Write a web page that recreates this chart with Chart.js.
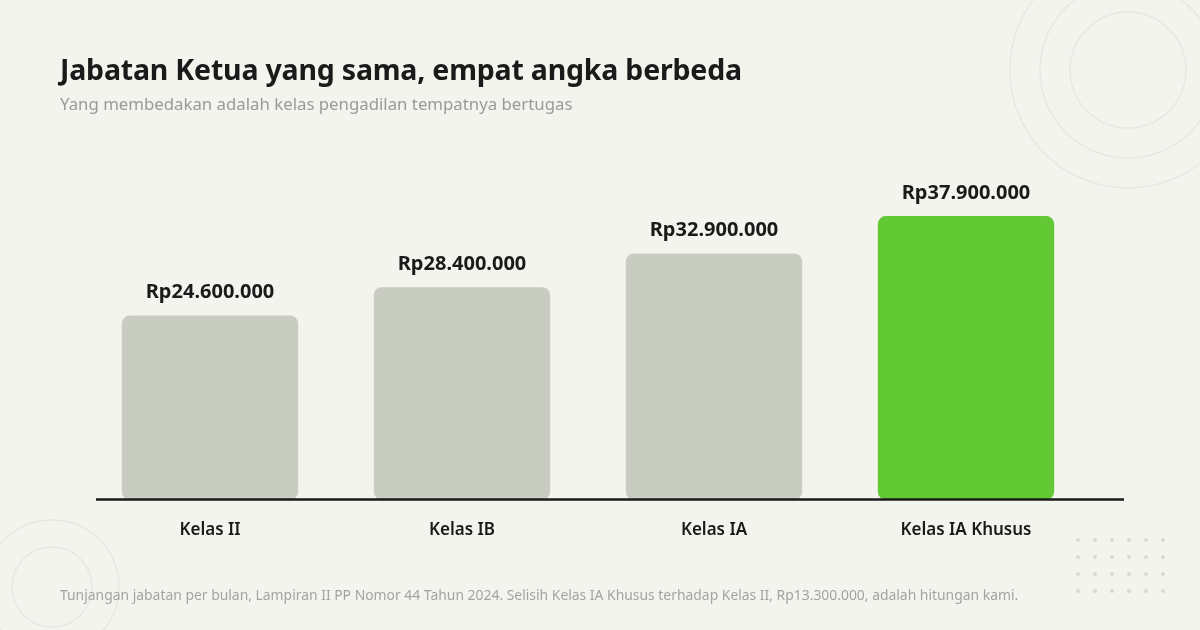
<!DOCTYPE html>
<html>
<head>
<meta charset="utf-8">
<script src="https://cdn.jsdelivr.net/npm/chart.js@4/dist/chart.umd.min.js"></script>
<style>
  html, body { margin: 0; padding: 0; }
  body {
    width: 1200px; height: 630px; overflow: hidden;
    background: #f4f4ef; position: relative;
    font-family: "Noto Sans", "Open Sans", sans-serif;
  }
  #grafik { position: absolute; left: 0; top: 0; }
  .judul {
    position: absolute; left: 60px; top: 50px; margin: 0;
    font-size: 28.5px; font-weight: 700; color: #1a1a1a; letter-spacing: -0.2px;
  }
  .subjudul {
    position: absolute; left: 60px; top: 92px; margin: 0;
    font-size: 16.8px; color: #9a9a96;
  }
  .catatan {
    position: absolute; left: 60px; top: 585px; margin: 0;
    font-size: 13.9px; color: #a3a39f;
  }
</style>
</head>
<body>
<canvas id="grafik" width="1200" height="630"></canvas>
<h1 class="judul">Jabatan Ketua yang sama, empat angka berbeda</h1>
<p class="subjudul">Yang membedakan adalah kelas pengadilan tempatnya bertugas</p>
<p class="catatan">Tunjangan jabatan per bulan, Lampiran II PP Nomor 44 Tahun 2024. Selisih Kelas IA Khusus terhadap Kelas II, Rp13.300.000, adalah hitungan kami.</p>

<script>
// Data tunjangan per kelas pengadilan
const kelas = ['Kelas II', 'Kelas IB', 'Kelas IA', 'Kelas IA Khusus'];
const tunjangan = [24600000, 28400000, 32900000, 37900000];
const warnaBatang = ['#c9ccc1', '#c9ccc1', '#c9ccc1', '#62c934'];

// Format rupiah dengan titik ribuan
function rupiah(n) {
  return 'Rp' + String(n).replace(/\B(?=(\d{3})+(?!\d))/g, '.');
}

// Hiasan latar: lingkaran dan titik-titik
const hiasan = {
  id: 'hiasan',
  beforeDraw(chart) {
    const ctx = chart.ctx;
    ctx.save();
    ctx.strokeStyle = '#e7e7e1';
    ctx.lineWidth = 1.3;
    [58, 88, 118].forEach(r => {
      ctx.beginPath(); ctx.arc(1128, 70, r, 0, Math.PI * 2); ctx.stroke();
    });
    [40, 67].forEach(r => {
      ctx.beginPath(); ctx.arc(52, 587, r, 0, Math.PI * 2); ctx.stroke();
    });
    ctx.fillStyle = '#d9d9d3';
    for (let i = 0; i < 6; i++) {
      for (let j = 0; j < 4; j++) {
        ctx.beginPath(); ctx.arc(1078 + i * 17, 540 + j * 17, 2, 0, Math.PI * 2); ctx.fill();
      }
    }
    ctx.restore();
  }
};

// Garis dasar dan label nilai di atas batang
const labelNilai = {
  id: 'labelNilai',
  afterDatasetsDraw(chart) {
    const ctx = chart.ctx;
    const dasar = chart.scales.y.getPixelForValue(0);
    ctx.save();
    ctx.strokeStyle = '#1a1a1a';
    ctx.lineWidth = 2.5;
    ctx.beginPath();
    ctx.moveTo(96, dasar);
    ctx.lineTo(1124, dasar);
    ctx.stroke();

    ctx.fillStyle = '#1a1a1a';
    ctx.font = '700 20px "Noto Sans", sans-serif';
    ctx.textAlign = 'center';
    ctx.textBaseline = 'middle';
    chart.getDatasetMeta(0).data.forEach((bar, i) => {
      ctx.fillText(rupiah(tunjangan[i]), bar.x, bar.y - 23);
    });
    ctx.restore();
  }
};

var konteks = document.getElementById('grafik').getContext('2d');

var grafik = new Chart(konteks, {
  type: 'bar',
  data: {
    labels: kelas,
    datasets: [{
      data: tunjangan,
      backgroundColor: warnaBatang,
      borderRadius: 8,
      borderSkipped: false,
      barPercentage: 0.7,
      categoryPercentage: 1
    }]
  },
  options: {
    responsive: false,
    animation: false,
    devicePixelRatio: 1,
    layout: {
      padding: { left: 84, right: 108, top: 163, bottom: 70 }
    },
    plugins: {
      legend: { display: false },
      tooltip: { enabled: false }
    },
    scales: {
      x: {
        grid: { display: false, drawTicks: false },
        border: { display: false },
        ticks: {
          color: '#1a1a1a',
          padding: 20,
          font: { family: '"Noto Sans", sans-serif', size: 17, weight: '600' }
        }
      },
      y: {
        display: false,
        min: 0,
        max: 45000000
      }
    }
  },
  plugins: [hiasan, labelNilai]
});
</script>
</body>
</html>
